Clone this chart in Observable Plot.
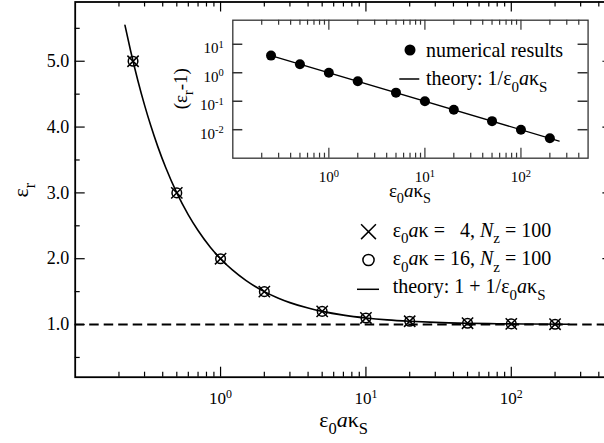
<!DOCTYPE html>
<html><head><meta charset="utf-8">
<script src="https://cdn.jsdelivr.net/npm/d3@7"></script>
<script src="https://cdn.jsdelivr.net/npm/@observablehq/plot@0.6"></script>
<style>
html,body{margin:0;padding:0;overflow:hidden;background:#fff;}
#wrap{position:relative;width:604px;height:443px;overflow:hidden;background:#fff;}
#wrap svg{position:absolute;}
#wrap svg text{font-family:'Liberation Serif','Times New Roman',serif !important;}
</style></head><body><div id="wrap"></div>
<script>
// ---- data ----
const kappaS = [0.25, 0.5, 1, 2, 5, 10, 20, 50, 100, 200];
const epsR_k4 = [5.0, 3.0, 2.0, 1.5, 1.2, 1.1, 1.05, 1.02, 1.01, 1.005];
const epsR_k16 = [5.0, 3.0, 2.0, 1.5, 1.2, 1.1, 1.05, 1.02, 1.01, 1.005];
const epsRminus1 = [4.0, 2.0, 1.0, 0.5, 0.2, 0.1, 0.05, 0.02, 0.01, 0.005];
const theoryX = [0.22, 0.24, 0.27, 0.3, 0.33, 0.37, 0.42, 0.5, 0.6, 0.7, 0.85, 1, 1.2, 1.5, 2, 2.5, 3, 4, 5, 7, 10, 14, 20, 30, 50, 80, 130, 250];
const theoryY = [5.545, 5.167, 4.704, 4.333, 4.030, 3.703, 3.381, 3.0, 2.667, 2.429, 2.176, 2.0, 1.833, 1.667, 1.5, 1.4, 1.333, 1.25, 1.2, 1.143, 1.1, 1.071, 1.05, 1.033, 1.02, 1.0125, 1.008, 1.004];
const insetTheoryX = [0.25, 250];
const insetTheoryY = [4, 0.004];
const vacuumLevel = [1];
const mainYTicks = [1, 2, 3, 4, 5];
const mainYMinor = [0.5, 1.5, 2.5, 3.5, 4.5, 5.5];
const xMajor = [1, 10, 100];
const xMinor = [0.2,0.3,0.4,0.5,0.6,0.7,0.8,0.9,2,3,4,5,6,7,8,9,20,30,40,50,60,70,80,90,200,300,400];
const insetYTicks = [10, 1, 0.1, 0.01];

const FONT = "'Liberation Serif','Times New Roman',serif";
const pts = kappaS.map((x, i) => ({x, a: epsR_k4[i], b: epsR_k16[i], c: epsRminus1[i]}));
const theory = theoryX.map((x, i) => ({x, y: theoryY[i]}));
const insetTheory = insetTheoryX.map((x, i) => ({x, y: insetTheoryY[i]}));

function supify(svg) {
  d3.select(svg).selectAll("text").each(function() {
    const t = this.textContent;
    if (t.includes("^")) {
      const [b, e] = t.split("^");
      const s = d3.select(this);
      s.text(b);
      s.append("tspan").attr("dy", "-0.5em").attr("font-size", "0.7em").text(e);
    }
  });
}

function rich(svg, {x, y, size, anchor = "start", rotate = 0, parts}) {
  const t = d3.select(svg).append("text")
    .attr("font-family", FONT).attr("font-size", size)
    .attr("text-anchor", anchor).attr("fill", "black").style("white-space", "pre");
  if (rotate) t.attr("transform", `translate(${x},${y}) rotate(${rotate})`);
  else t.attr("x", x).attr("y", y);
  let off = 0;
  for (const p of parts) {
    const s = typeof p === "string" ? {t: p} : p;
    const ts = t.append("tspan").text(s.t);
    let target = 0, fs = null;
    if (s.sub) { target = size * 0.33; fs = size * 0.75; }
    const d = target - off;
    if (d !== 0) ts.attr("dy", d);
    off = target;
    if (fs) ts.attr("font-size", fs);
    if (s.it) ts.attr("font-style", "italic");
  }
}

const wrap = document.getElementById("wrap");

// ---- main plot ----
const W = 613, H = 443, mL = 74.7, mR = 0.6, mT = 1.5, mB = 66.3;
const iW = W - mL - mR, iH = H - mT - mB;
const main = Plot.plot({
  width: W, height: H,
  marginLeft: mL, marginRight: mR, marginTop: mT, marginBottom: mB,
  style: {fontFamily: FONT, background: "transparent", maxWidth: "none", overflow: "visible"},
  x: {type: "log", domain: [0.1, 500]},
  y: {domain: [0.2, 5.9]},
  marks: [
    Plot.ruleY(vacuumLevel, {y: d => d, stroke: "black", strokeWidth: 2, strokeDasharray: "9.5,5"}),
    Plot.line(theory, {x: "x", y: "y", curve: "monotone-x", stroke: "black", strokeWidth: 1.6}),
    Plot.dot(pts, {x: "x", y: "b", symbol: "circle", r: 4.8, stroke: "black", strokeWidth: 1.5, fill: "none"}),
    Plot.dot(pts, {x: "x", y: "a", symbol: "times", r: 5.2, stroke: "black", strokeWidth: 1.5}),
    // inward ticks
    Plot.tickX(xMajor, {x: d => d, insetTop: iH - 10, stroke: "black", strokeWidth: 1.2}),
    Plot.tickX(xMinor, {x: d => d, insetTop: iH - 5, stroke: "black", strokeWidth: 1.2}),
    Plot.tickX(xMajor, {x: d => d, insetBottom: iH - 10, stroke: "black", strokeWidth: 1.2}),
    Plot.tickX(xMinor, {x: d => d, insetBottom: iH - 5, stroke: "black", strokeWidth: 1.2}),
    Plot.tickY(mainYTicks, {y: d => d, insetRight: iW - 10, stroke: "black", strokeWidth: 1.2}),
    Plot.tickY(mainYMinor, {y: d => d, insetRight: iW - 5, stroke: "black", strokeWidth: 1.2}),
    Plot.tickY(mainYTicks, {y: d => d, insetLeft: iW - 10, stroke: "black", strokeWidth: 1.2}),
    Plot.tickY(mainYMinor, {y: d => d, insetLeft: iW - 5, stroke: "black", strokeWidth: 1.2}),
    Plot.axisX({ticks: xMajor, tickSize: 0, tickPadding: 14.6, label: null, fontSize: 17, fill: "black", fontFamily: FONT,
      tickFormat: d => "10^" + Math.round(Math.log10(d))}),
    Plot.axisY({ticks: mainYTicks, tickSize: 0, tickPadding: 6, label: null, fontSize: 18, fill: "black", fontFamily: FONT,
      tickFormat: d => d.toFixed(1)}),
    Plot.frame({stroke: "black", strokeWidth: 1.8})
  ]
});
main.style.left = "0px"; main.style.top = "0px";
wrap.appendChild(main);
supify(main);

// titles
rich(main, {x: (mL + W - mR) / 2, y: 426.7, size: 22, anchor: "middle",
  parts: ["ε", {t: "0", sub: true}, {t: "a", it: true}, "κ", {t: "S", sub: true}]});
rich(main, {x: 28, y: 190, size: 22, anchor: "middle", rotate: -90,
  parts: ["ε", {t: "r", sub: true}]});

// main legend
const g = d3.select(main).append("g").attr("stroke", "black").attr("fill", "none").attr("stroke-width", 1.5);
g.append("path").attr("transform", "translate(368.5,231.7)").attr("d", d3.symbol(d3.symbolTimes, Math.PI * 6.8 * 6.8)());
g.append("circle").attr("cx", 368.5).attr("cy", 260).attr("r", 5.6);
g.append("line").attr("x1", 357).attr("x2", 379).attr("y1", 289.3).attr("y2", 289.3);
rich(main, {x: 392.7, y: 236.7, size: 20,
  parts: ["ε", {t: "0", sub: true}, {t: "a", it: true}, "κ =   4, ", {t: "N", it: true}, {t: "z", sub: true}, " = 100"]});
rich(main, {x: 392.7, y: 265, size: 20,
  parts: ["ε", {t: "0", sub: true}, {t: "a", it: true}, "κ = 16, ", {t: "N", it: true}, {t: "z", sub: true}, " = 100"]});
rich(main, {x: 392.7, y: 293.3, size: 20,
  parts: ["theory: 1 + 1/ε", {t: "0", sub: true}, {t: "a", it: true}, "κ", {t: "S", sub: true}]});

// ---- inset ----
const OX = 160, OY = 18;
const iL = 72.3, iT = 1.7, iR = 2, iB = 45, iw = 355.3, ih = 138;
const inset = Plot.plot({
  width: iL + iw + iR, height: iT + ih + iB,
  marginLeft: iL, marginRight: iR, marginTop: iT, marginBottom: iB,
  style: {fontFamily: FONT, background: "transparent", maxWidth: "none", overflow: "visible"},
  x: {type: "log", domain: [0.1, 500]},
  y: {type: "log", domain: [0.001, 70]},
  marks: [
    Plot.frame({fill: "white", stroke: "none"}),
    Plot.line(insetTheory, {x: "x", y: "y", stroke: "black", strokeWidth: 1.3}),
    Plot.dot(pts, {x: "x", y: "c", r: 5, fill: "black"}),
    Plot.tickX(xMajor, {x: d => d, insetTop: ih - 10, stroke: "#333", strokeWidth: 1.2}),
    Plot.tickX(xMinor, {x: d => d, insetTop: ih - 5, stroke: "#333", strokeWidth: 1.2}),
    Plot.tickX(xMajor, {x: d => d, insetBottom: ih - 10, stroke: "#333", strokeWidth: 1.2}),
    Plot.tickX(xMinor, {x: d => d, insetBottom: ih - 5, stroke: "#333", strokeWidth: 1.2}),
    Plot.tickY(insetYTicks, {y: d => d, insetRight: iw - 10, stroke: "#333", strokeWidth: 1.5}),
    Plot.tickY(insetYTicks, {y: d => d, insetLeft: iw - 10, stroke: "#333", strokeWidth: 1.5}),
    Plot.axisX({ticks: xMajor, tickSize: 0, tickPadding: 13, label: null, fontSize: 15, fill: "black", fontFamily: FONT,
      tickFormat: d => "10^" + Math.round(Math.log10(d))}),
    Plot.axisY({ticks: insetYTicks, tickSize: 0, tickPadding: 9, label: null, fontSize: 15, fill: "black", dy: 4, fontFamily: FONT,
      tickFormat: d => "10^" + Math.round(Math.log10(d))}),
    Plot.frame({stroke: "#333", strokeWidth: 1.3})
  ]
});
inset.style.left = OX + "px"; inset.style.top = OY + "px";
wrap.appendChild(inset);
supify(inset);

rich(inset, {x: iL + iw / 2, y: 197 - OY, size: 19, anchor: "middle",
  parts: ["ε", {t: "0", sub: true}, {t: "a", it: true}, "κ", {t: "S", sub: true}]});
rich(inset, {x: 187 - OX, y: 88.7 - OY, size: 19, anchor: "middle", rotate: -90,
  parts: ["(ε", {t: "r", sub: true}, "-1)"]});
const g2 = d3.select(inset).append("g");
g2.append("circle").attr("cx", 410 - OX).attr("cy", 50 - OY).attr("r", 5.5).attr("fill", "black");
g2.append("line").attr("x1", 399.3 - OX).attr("x2", 419.3 - OX).attr("y1", 79 - OY).attr("y2", 79 - OY)
  .attr("stroke", "black").attr("stroke-width", 1.5);
rich(inset, {x: 426 - OX, y: 56.7 - OY, size: 20, parts: ["numerical results"]});
rich(inset, {x: 426 - OX, y: 85.5 - OY, size: 20,
  parts: ["theory: 1/ε", {t: "0", sub: true}, {t: "a", it: true}, "κ", {t: "S", sub: true}]});
</script></body></html>
